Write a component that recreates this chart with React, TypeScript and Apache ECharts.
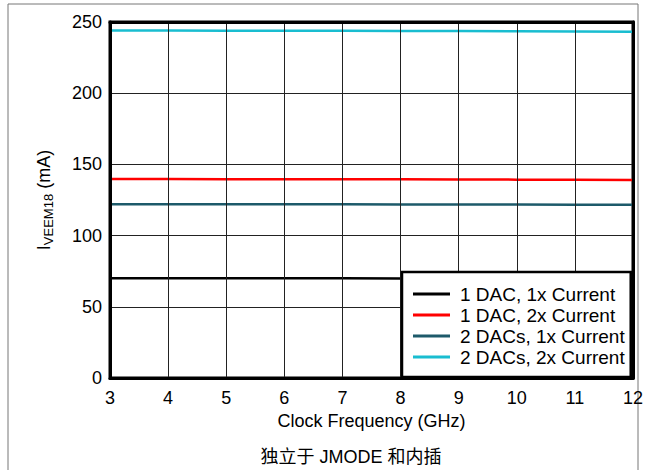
import React, { useEffect, useRef } from "react";
import * as echarts from "echarts";

const freqs = [3, 4, 5, 6, 7, 8, 9, 10, 11, 12];
const oneDac1x = [70, 70, 70, 70, 70, 69.9, 69.9, 69.8, 69.8, 69.7];
const oneDac2x = [139.7, 139.7, 139.6, 139.6, 139.6, 139.5, 139.4, 139.3, 139.2, 139.1];
const twoDac1x = [122.1, 122.1, 122.0, 122.0, 122.0, 121.9, 121.9, 121.8, 121.7, 121.6];
const twoDac2x = [244.0, 244.0, 243.9, 243.9, 243.8, 243.7, 243.6, 243.5, 243.3, 243.1];
const seriesNames = ["1 DAC, 1x Current", "1 DAC, 2x Current", "2 DACs, 1x Current", "2 DACs, 2x Current"];
const seriesColors = ["#000000", "#ff0000", "#1d5a6a", "#19bdd0"];
const yTicks = { min: 0, max: 250, interval: 50 };
const xTicks = { min: 3, max: 12, interval: 1 };

const FONT = "'Liberation Sans', Arial, sans-serif";

export default function App() {
  const ref = useRef<HTMLDivElement>(null);
  useEffect(() => {
    if (!ref.current) return;
    const chart = echarts.init(ref.current, undefined, { renderer: "svg" });
    const all = [oneDac1x, oneDac2x, twoDac1x, twoDac2x];
    const frameLine = () => ({ show: true, onZero: false, lineStyle: { color: "#000000", width: 3 } });
    chart.setOption({
      animation: false,
      backgroundColor: "#ffffff",
      textStyle: { fontFamily: FONT },
      grid: {
        left: 110,
        right: 12,
        top: 22,
        bottom: 92,
        show: true,
        borderColor: "#000000",
        borderWidth: 3,
        backgroundColor: "rgba(0,0,0,0)",
      },
      xAxis: [
        {
          type: "value",
          min: xTicks.min,
          max: xTicks.max,
          interval: xTicks.interval,
          name: "Clock Frequency (GHz)",
          nameLocation: "middle",
          nameGap: 33,
          nameTextStyle: { fontSize: 18, color: "#000", fontFamily: FONT },
          axisLine: frameLine(),
          axisTick: { show: false },
          axisLabel: { fontSize: 18, color: "#000", margin: 11, fontFamily: FONT },
          splitLine: { show: true, lineStyle: { color: "#222", width: 1 } },
          z: 4,
        },
        {
          type: "value",
          position: "top",
          min: xTicks.min,
          max: xTicks.max,
          interval: xTicks.interval,
          axisLine: frameLine(),
          axisTick: { show: false },
          axisLabel: { show: false },
          splitLine: { show: false },
          z: 4,
        },
      ],
      yAxis: [
        {
          type: "value",
          min: yTicks.min,
          max: yTicks.max,
          interval: yTicks.interval,
          name: "{a|I}{sub|VEEM18}{a| (mA)}",
          nameLocation: "middle",
          nameGap: 55,
          nameRotate: 90,
          nameTextStyle: {
            color: "#000",
            rich: {
              a: { fontSize: 18, color: "#000", fontFamily: FONT, verticalAlign: "top", lineHeight: 20 },
              sub: { fontSize: 13, color: "#000", fontFamily: FONT, verticalAlign: "bottom", lineHeight: 20, padding: [7, 0, 0, 0] },
            },
          },
          axisLine: frameLine(),
          axisTick: { show: false },
          axisLabel: { fontSize: 18, color: "#000", margin: 8, fontFamily: FONT },
          splitLine: { show: true, lineStyle: { color: "#222", width: 1 } },
          z: 4,
        },
        {
          type: "value",
          position: "right",
          min: yTicks.min,
          max: yTicks.max,
          interval: yTicks.interval,
          axisLine: frameLine(),
          axisTick: { show: false },
          axisLabel: { show: false },
          splitLine: { show: false },
          z: 4,
        },
      ],
      legend: {
        orient: "vertical",
        left: 402,
        top: 272,
        backgroundColor: "#fff",
        borderColor: "#000",
        borderWidth: 2.5,
        borderRadius: 0,
        padding: [12, 6, 10, 11],
        itemGap: 1,
        itemWidth: 37,
        itemHeight: 3,
        icon: "rect",
        z: 10,
        textStyle: { fontSize: 19, lineHeight: 20, color: "#000", fontFamily: FONT, padding: [0, 0, 0, 5] },
        data: seriesNames,
      },
      series: all.map((vals, i) => ({
        name: seriesNames[i],
        type: "line",
        data: freqs.map((f, j) => [f, vals[j]]),
        symbol: "none",
        lineStyle: { color: seriesColors[i], width: 2.5 },
        itemStyle: { color: seriesColors[i] },
        z: 2,
      })),
      graphic: [
        {
          type: "rect",
          shape: { x: 8, y: 4, width: 630, height: 480 },
          style: { fill: "none", stroke: "#777", lineWidth: 1 },
          silent: true,
        },
        {
          type: "text",
          x: 351,
          y: 448,
          style: {
            text: "独立于 JMODE 和内插",
            fontSize: 18,
            fill: "#000",
            align: "center",
            fontFamily: "'Liberation Sans', 'Noto Sans CJK SC', sans-serif",
          },
        },
      ],
    });
    return () => chart.dispose();
  }, []);
  return (
    <div
      ref={ref}
      style={{ position: "fixed", left: 0, top: 0, width: 646, height: 470 }}
    />
  );
}
